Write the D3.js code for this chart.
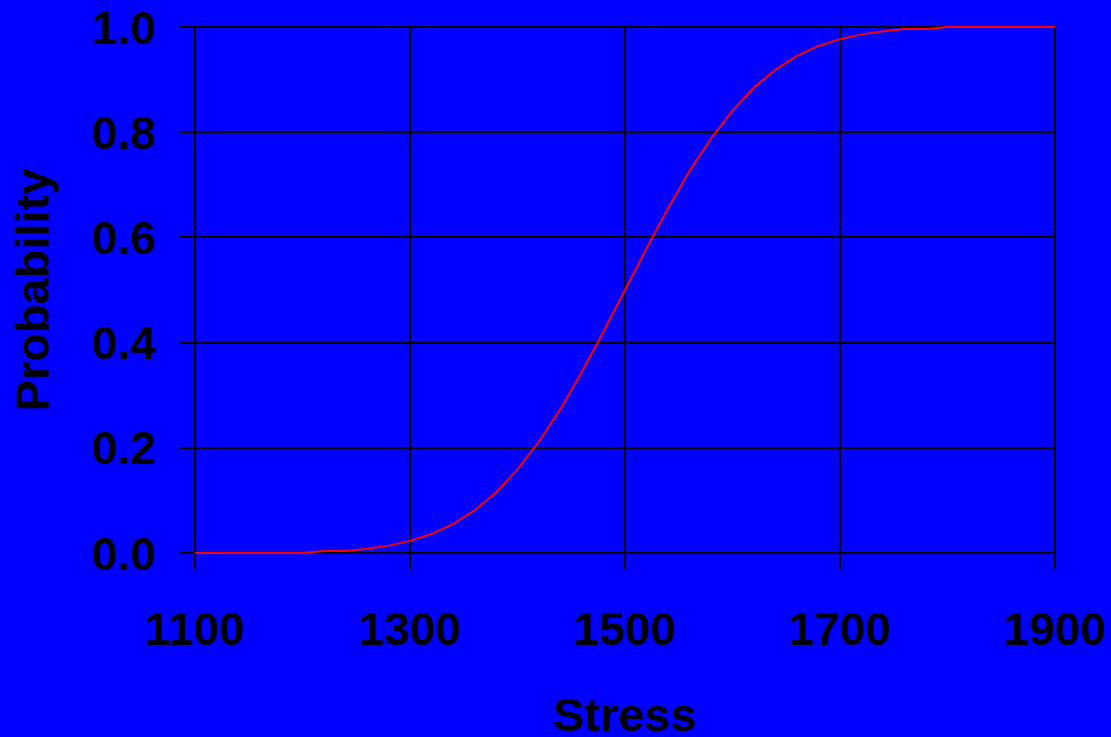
<!DOCTYPE html>
<html>
<head>
<meta charset="utf-8">
<script src="https://cdn.jsdelivr.net/npm/d3@7"></script>
<style>
  html, body { margin: 0; padding: 0; background: #0000FF; }
  svg { display: block; }
  text { font-family: "Liberation Sans", Arial, sans-serif; font-weight: bold; fill: #000; }
</style>
</head>
<body>
<svg id="chart" width="1111" height="737"></svg>
<script>
// Data
const stress = [1100,1120,1140,1160,1180,1200,1220,1240,1260,1280,1300,1320,1340,1360,1380,1400,1420,1440,1460,1480,1500,1520,1540,1560,1580,1600,1620,1640,1660,1680,1700,1720,1740,1760,1780,1800,1820,1840,1860,1880,1900];
const probability = [0,0,0,0,0,0,0.004,0.004,0.008,0.014,0.023,0.036,0.055,0.081,0.115,0.159,0.212,0.274,0.345,0.421,0.500,0.579,0.655,0.726,0.788,0.841,0.885,0.919,0.945,0.964,0.977,0.986,0.992,0.996,0.996,1.000,1.000,1.000,1.000,1.000,1.000];
const xTicks = [1100,1300,1500,1700,1900];
const yTicks = [0,0.2,0.4,0.6,0.8,1.0];
const xTitle = "Stress";
const yTitle = "Probability";

(function () {
const svg = d3.select("#chart");
const mLeft = 195, mRight = 1055, mTop = 27, mBottom = 553;
const plotH = mBottom - mTop, plotW = mRight - mLeft;

const x = d3.scaleLinear().domain([1100, 1900]).range([mLeft, mRight]);
const y = d3.scaleLinear().domain([0, 1]).range([mBottom, mTop]);

svg.append("rect").attr("width", 1111).attr("height", 737).attr("fill", "#0000FF");

// X axis with gridlines
const gx = svg.append("g").attr("transform", `translate(0,${mBottom})`)
  .call(d3.axisBottom(x).tickValues(xTicks).tickFormat(d3.format("d")).tickSizeOuter(0).offset(0));
gx.select(".domain").remove();
gx.selectAll(".tick line").attr("y1", -plotH).attr("y2", 16).attr("stroke", "#000").attr("stroke-width", 2)
  .attr("shape-rendering", "crispEdges");
gx.selectAll(".tick text").attr("y", 92).attr("dy", 0).attr("font-size", 46)
  .attr("font-family", "'Liberation Sans', Arial, sans-serif").attr("font-weight", "bold").attr("fill", "#000");

// Y axis with gridlines
const gy = svg.append("g").attr("transform", `translate(${mLeft},0)`)
  .call(d3.axisLeft(y).tickValues(yTicks).tickFormat(d3.format(".1f")).tickSizeOuter(0).offset(0));
gy.select(".domain").remove();
gy.selectAll(".tick line").attr("x1", -16).attr("x2", plotW).attr("stroke", "#000").attr("stroke-width", 2)
  .attr("shape-rendering", "crispEdges");
gy.selectAll(".tick text").attr("x", -39).attr("dy", "0.36em").attr("font-size", 46)
  .attr("font-family", "'Liberation Sans', Arial, sans-serif").attr("font-weight", "bold").attr("fill", "#000");

// Curve
const pts = stress.map((s, i) => [s, probability[i]]);
svg.append("path")
  .datum(pts)
  .attr("fill", "none")
  .attr("stroke", "#FF0000")
  .attr("stroke-width", 2)
  .attr("d", d3.line().x(d => x(d[0])).y(d => y(d[1])));

// Titles
svg.append("text").attr("x", 625).attr("y", 731).attr("text-anchor", "middle")
  .attr("font-size", 47).text(xTitle);
svg.append("text").attr("transform", "translate(49,290) rotate(-90)").attr("text-anchor", "middle")
  .attr("font-size", 47).text(yTitle);
})();
</script>
</body>
</html>
